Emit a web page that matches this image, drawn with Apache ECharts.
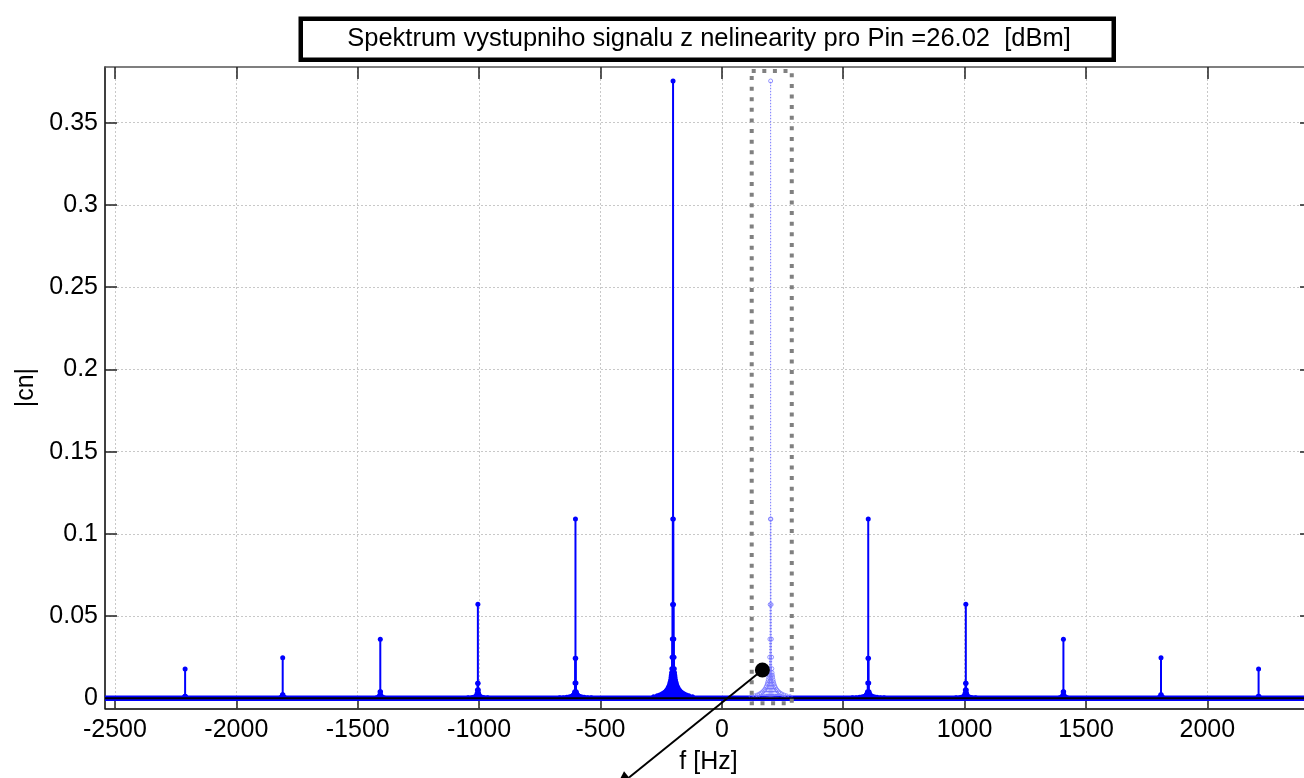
<!DOCTYPE html>
<html><head><meta charset="utf-8">
<script src="https://cdn.jsdelivr.net/npm/echarts@6/dist/echarts.min.js"></script>
<style>html,body{margin:0;padding:0;background:#fff;}#c{width:1304px;height:778px;}</style>
</head><body><div id="c"></div><script>
// ---------- texts ----------
const titleText = 'Spektrum vystupniho signalu z nelinearity pro Pin =26.02  [dBm]';
const xName = 'f [Hz]';
const yName = '|cn|';
// ---------- ticks ----------
const xTicks = [-2500, -2000, -1500, -1000, -500, 0, 500, 1000, 1500, 2000];
const yTicks = [0, 0.05, 0.1, 0.15, 0.2, 0.25, 0.3, 0.35];
const xRange = [-2541, 2431];
const yRange = [-0.00608, 0.3839];
// ---------- data ----------
// odd harmonics of 201 Hz
const harmonicFreqs = [201, 603, 1005, 1407, 1809, 2211];
const negPeakAmps = [0.3754, 0.109, 0.0572, 0.0359, 0.0247, 0.0178];
const posPeakAmps = [0.3754, 0.109, 0.0572, 0.0359, 0.0247, 0.0178]; // +201 drawn faint
// leakage points next to each peak (offset in Hz, amplitude)
const skirtOffsets = [
  [1, 2, 3, 4, 5, 6, 7, 8, 10, 12, 14, 17, 20, 24, 28, 33, 39, 46, 55, 65, 80],
  [1, 2, 3, 4, 6, 8, 11, 15, 20, 27, 36, 50, 65],
  [1, 2, 3, 5, 8, 12, 18, 26, 40],
  [1, 2, 4, 8, 15],
  [1, 3, 8],
  [1, 4]
];
const skirtAmps = [
  [0.109, 0.057, 0.036, 0.025, 0.018, 0.0155, 0.014, 0.0128, 0.0112, 0.0098, 0.0086, 0.0074, 0.0064, 0.0054, 0.0046, 0.0039, 0.0032, 0.0026, 0.0020, 0.0015, 0.0010],
  [0.0243, 0.0093, 0.004, 0.0032, 0.0025, 0.002, 0.0016, 0.0013, 0.001, 0.0008, 0.0006, 0.0004, 0.0003],
  [0.0091, 0.005, 0.003, 0.0018, 0.0012, 0.0008, 0.0006, 0.0004, 0.0003],
  [0.004, 0.002, 0.0012, 0.0007, 0.0004],
  [0.0022, 0.001, 0.0005],
  [0.0012, 0.0005]
];
const floorF = [-2541, 2431];
const floorV = [0, 0];
// annotation (data units)
const markBoxF = [123, 288];
const markBoxV = [-0.003, 0.3815];
const pointerFrom = [167, 0.0172];
const pointerTo = [-440, -0.055];

// ---------- build stems ----------
function cluster(center, idx, peak) {
  const out = [];
  const offs = skirtOffsets[idx], amps = skirtAmps[idx];
  for (let i = offs.length - 1; i >= 0; i--) {
    out.push([center - offs[i], amps[i]]);
    out.push([center + offs[i], amps[i]]);
  }
  out.push([center, peak]);
  return out;
}
let mainStems = [];
harmonicFreqs.forEach((f, i) => { mainStems = mainStems.concat(cluster(-f, i, negPeakAmps[i])); });
harmonicFreqs.forEach((f, i) => { if (i > 0) mainStems = mainStems.concat(cluster(f, i, posPeakAmps[i])); });
const faintStems = cluster(harmonicFreqs[0], 0, posPeakAmps[0]);

const FONT = 'Liberation Sans, Arial, Helvetica, sans-serif';

function stemRender(color, lw, r, faint) {
  return function (params, api) {
    const f = api.value(0), v = api.value(1);
    const a = api.coord([f, 0]), b = api.coord([f, v]);
    return {
      type: 'group', children: [
        { type: 'line', shape: { x1: a[0], y1: a[1], x2: b[0], y2: b[1] },
          style: { stroke: color, lineWidth: lw, lineDash: faint ? [1.5, 1.5] : null } },
        { type: 'circle', shape: { cx: b[0], cy: b[1], r: r },
          style: faint ? { fill: null, stroke: color, lineWidth: 0.8 } : { fill: color } }
      ]
    };
  };
}

function annotRender(params, api) {
  const p1 = api.coord([markBoxF[0], markBoxV[1]]);
  const p2 = api.coord([markBoxF[1], markBoxV[0]]);
  const c = api.coord(pointerFrom);
  const t = api.coord(pointerTo);
  const dx = t[0] - c[0], dy = t[1] - c[1];
  const L = Math.sqrt(dx * dx + dy * dy);
  const ux = dx / L, uy = dy / L;
  const hl = 18, hw = 8;
  const bx = t[0] - ux * hl, by = t[1] - uy * hl;
  return {
    type: 'group', children: [
      { type: 'rect', shape: { x: p1[0], y: p1[1], width: p2[0] - p1[0], height: p2[1] - p1[1] },
        style: { fill: null, stroke: '#808080', lineWidth: 4, lineDash: [4, 6.6] } },
      { type: 'line', shape: { x1: c[0], y1: c[1], x2: bx, y2: by },
        style: { stroke: '#000', lineWidth: 2 } },
      { type: 'polygon', shape: { points: [[t[0], t[1]], [bx - uy * hw, by + ux * hw], [bx + uy * hw, by - ux * hw]] },
        style: { fill: '#000' } },
      { type: 'circle', shape: { cx: c[0], cy: c[1], r: 7.5 }, style: { fill: '#000' } }
    ]
  };
}

const fmt = v => String(v);
const chart = echarts.init(document.getElementById('c'), null, { renderer: 'canvas' });
chart.setOption({
  animation: false,
  backgroundColor: '#fff',
  textStyle: { fontFamily: FONT },
  grid: { left: 105, top: 67, right: -8, bottom: 69.7, containLabel: false, outerBoundsMode: 'none' },
  xAxis: [
    {
      type: 'value', position: 'bottom', min: xRange[0], max: xRange[1],
      axisLine: { show: true, onZero: false, lineStyle: { color: '#000', width: 1.5 } },
      axisTick: { show: true, inside: true, length: 12, customValues: xTicks, lineStyle: { color: '#222', width: 1.5 } },
      axisLabel: { customValues: xTicks, formatter: fmt, fontSize: 25, color: '#000', margin: 9, fontFamily: FONT },
      splitLine: { show: true, lineStyle: { type: [2, 2], color: '#c8c8c8', width: 1 } },
      name: xName, nameLocation: 'middle', nameGap: 41,
      nameTextStyle: { fontSize: 25, color: '#000', fontFamily: FONT }
    },
    {
      type: 'value', position: 'top', min: xRange[0], max: xRange[1],
      axisLine: { show: true, onZero: false, lineStyle: { color: '#555', width: 1.5 } },
      axisTick: { show: true, inside: true, length: 12, customValues: xTicks, lineStyle: { color: '#222', width: 1.5 } },
      axisLabel: { show: false }, splitLine: { show: false }
    }
  ],
  yAxis: [
    {
      type: 'value', position: 'left', min: yRange[0], max: yRange[1],
      axisLine: { show: true, onZero: false, lineStyle: { color: '#000', width: 1.5 } },
      axisTick: { show: true, inside: true, length: 12, customValues: yTicks, lineStyle: { color: '#222', width: 1.5 } },
      axisLabel: { customValues: yTicks, formatter: fmt, fontSize: 25, color: '#000', margin: 7, fontFamily: FONT },
      splitLine: { show: true, lineStyle: { type: [2, 2], color: '#c8c8c8', width: 1 } },
      name: yName, nameLocation: 'middle', nameGap: 66,
      nameTextStyle: { fontSize: 25, color: '#000', fontFamily: FONT }
    },
    {
      type: 'value', position: 'right', min: yRange[0], max: yRange[1],
      axisLine: { show: true, onZero: false, lineStyle: { color: '#555', width: 1.5 } },
      axisTick: { show: true, inside: true, length: 12, customValues: yTicks, lineStyle: { color: '#222', width: 1.5 } },
      axisLabel: { show: false }, splitLine: { show: false }
    }
  ],
  graphic: [
    { type: 'rect', left: 298.5, top: 16.5, shape: { width: 813, height: 41 },
      style: { fill: '#fff', stroke: '#000', lineWidth: 4.5 }, z: 10 },
    { type: 'text', x: 709, y: 38.5, z: 11,
      style: { text: titleText, font: '25.5px ' + FONT, fill: '#000', align: 'center', verticalAlign: 'middle' } }
  ],
  series: [
    { type: 'line', data: floorF.map((f, i) => [f, floorV[i]]), symbol: 'none', z: 1, silent: true,
      lineStyle: { color: '#0000ff', width: 5.5 } },
    { type: 'custom', data: faintStems, renderItem: stemRender('#7878ff', 1, 2, true), z: 2, silent: true, clip: true,
      encode: { x: 0, y: 1 } },
    { type: 'custom', data: mainStems, renderItem: stemRender('#0000ff', 2, 2.5, false), z: 3, silent: true, clip: true,
      encode: { x: 0, y: 1 } },
    { type: 'line', data: floorF.map((f, i) => [f, floorV[i]]), symbol: 'none', z: 4, silent: true,
      lineStyle: { color: '#000', width: 2 } },
    { type: 'custom', data: [[0, 0]], renderItem: annotRender, z: 5, silent: true, clip: false,
      encode: { x: 0, y: 1 } }
  ]
});
</script></body></html>
